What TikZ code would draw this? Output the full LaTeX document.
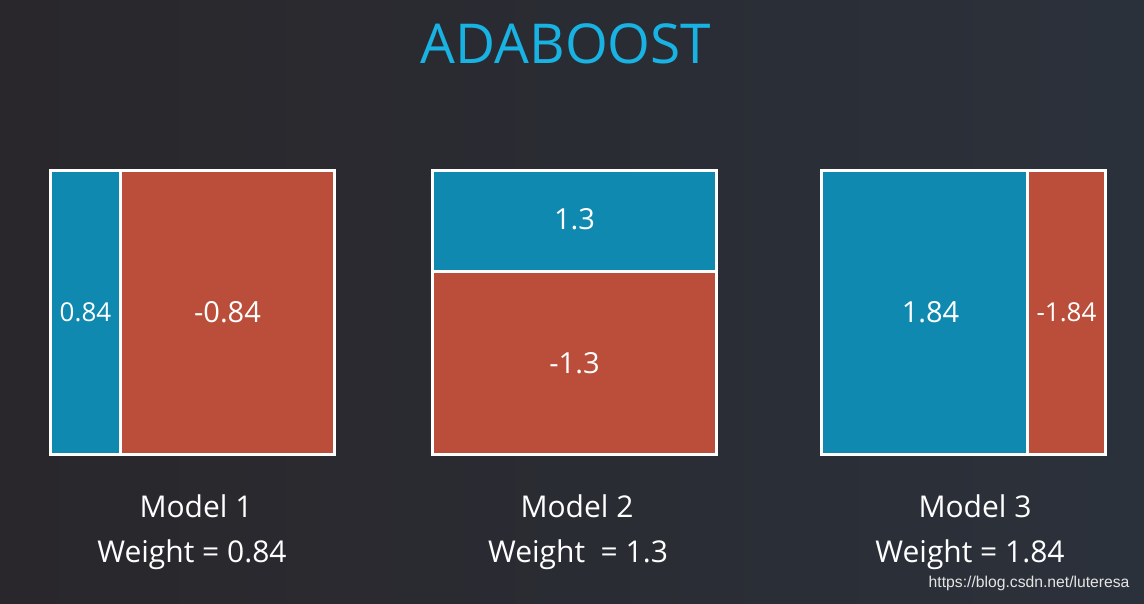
\documentclass[tikz,border=0pt]{standalone}
\usepackage{fontspec}
\setmainfont{Open Sans}
\newfontfamily\urlfont{Liberation Sans}
\usetikzlibrary{positioning}
\definecolor{adablue}{RGB}{16, 137, 176}
\definecolor{adared}{RGB}{186, 78, 58}
\definecolor{adatitle}{RGB}{24, 178, 227}
\definecolor{bgleft}{RGB}{41, 39, 43}
\definecolor{bgright}{RGB}{43, 49, 59}

\begin{document}
\begin{tikzpicture}[x=1pt, y=-1pt,
    cell/.style={rectangle, draw=white, line width=3pt, inner sep=0pt, outer sep=0pt,
      text=white, font=\fontsize{29}{29}\selectfont},
    caption/.style={anchor=base, text=white, font=\fontsize{30}{30}\selectfont}]
    \shade[left color=bgleft, right color=bgright] (0,0) rectangle (1144,603);
    \useasboundingbox (0,0) rectangle (1144,603);

    \node[anchor=base, text=adatitle, font=\fontsize{55}{55}\selectfont] (title) at (566,63) {ADABOOST};

    % model 1
    \node[cell, fill=adablue, minimum width=70, minimum height=284,
      font=\fontsize{26}{26}\selectfont] (b1) at (85.5,312.5) {0.84};
    \node[cell, fill=adared, minimum width=214, minimum height=284, right=0pt of b1] (r1) {-0.84};

    % model 2
    \node[cell, fill=adablue, minimum width=284, minimum height=101] (b2) at (574.5,221) {\raisebox{4pt}{1.3}};
    \node[cell, fill=adared, minimum width=284, minimum height=183, below=0pt of b2] (r2) {-1.3};

    % model 3
    \node[cell, fill=adablue, minimum width=206, minimum height=284] (b3) at (924.5,312.5) {\hspace{12pt}1.84};
    \node[cell, fill=adared, minimum width=78, minimum height=284, right=0pt of b3,
      font=\fontsize{26}{26}\selectfont] (r3) {-1.84};

    \node[caption] (m1) at (196,517) {Model 1};
    \node[caption] (w1) at (192,562) {Weight = 0.84};
    \node[caption] (m2) at (577,517) {Model 2};
    \node[caption] (w2) at (578,562) {Weight\ \ = 1.3};
    \node[caption] (m3) at (975,517) {Model 3};
    \node[caption] (w3) at (970,562) {Weight = 1.84};

    \node[anchor=base east, text=white!80!gray, font=\urlfont\fontsize{15.7}{15.7}\selectfont] (mark) at (1133,587) {https://blog.csdn.net/luteresa};
  \end{tikzpicture}
\end{document}
